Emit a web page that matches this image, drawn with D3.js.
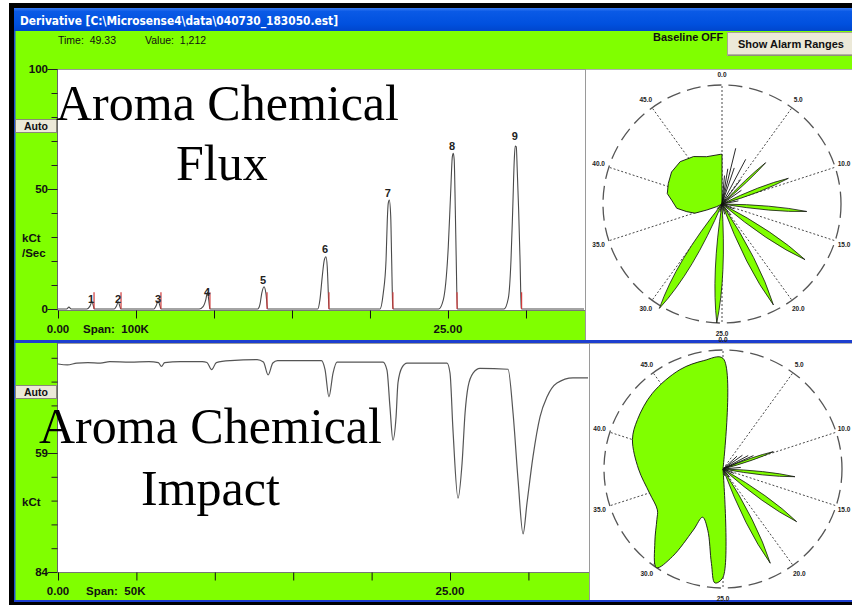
<!DOCTYPE html>
<html><head><meta charset="utf-8">
<script src="https://cdn.jsdelivr.net/npm/d3@7"></script>
<style>html,body{margin:0;padding:0;background:#fff;overflow:hidden}svg{display:block}</style>
</head><body>
<svg id="c" width="852" height="605"></svg>
<script>
// ---------------- data ----------------
const windowTitle = "Derivative [C:\\Microsense4\\data\\040730_183050.est]";
const readoutTime = "Time:  49.33";
const readoutValue = "Value:  1,212";
const baselineText = "Baseline OFF";
const buttonText = "Show Alarm Ranges";
const autoText = "Auto";
const fluxTitle = ["Aroma Chemical", "Flux"];
const impactTitle = ["Aroma Chemical", "Impact"];
const fluxUnits = ["kCt", "/Sec"];
const impactUnits = ["kCt"];
const fluxSpan = "Span:  100K";
const impactSpan = "Span:  50K";

const timeTicks = [0, 5, 10, 15, 20, 25, 30];
const timeTickLabels = {0: "0.00", 25: "25.00"};
const fluxTicks = [0, 10, 20, 30, 40, 50, 60, 70, 80, 90, 100];
const fluxTickLabels = [0, 50, 100];
const impactTicks = [39, 44, 49, 54, 59, 64, 69, 74, 79, 84];
const impactTickLabels = [59, 84];

// derivative trace [time, kCt/s]
const fluxTrace = [
  [0,0],[0.55,0],[0.7,0.8],[0.85,0],
  [1.85,0],[2.05,1.2],[2.18,3.0],[2.28,1.0],[2.33,0],
  [3.6,0],[3.75,1.2],[3.86,3.0],[3.97,1.0],[4.03,0],
  [6.15,0],[6.3,1.5],[6.42,3.4],[6.54,1.2],[6.6,0],
  [9.05,0],[9.3,1.0],[9.48,4.0],[9.58,7.0],[9.66,4.0],[9.74,0],
  [12.8,0],[12.95,2.0],[13.06,6.5],[13.21,9.3],[13.33,6.5],[13.44,0],
  [16.65,0],[16.79,3.8],[16.94,13.5],[17.07,20.4],[17.18,21.8],[17.26,17.6],[17.33,6.5],[17.37,0],
  [20.64,0],[20.85,6.5],[21.03,20.4],[21.11,37.1],[21.17,44.0],[21.24,45.4],[21.33,38.5],[21.39,20.4],[21.46,1.0],[21.49,0],
  [24.4,0],[24.7,3.8],[25.02,26.0],[25.17,48.2],[25.28,63.5],[25.34,64.9],[25.4,62.1],[25.47,41.3],[25.53,20.4],[25.6,0],
  [28.59,0],[28.87,4.5],[29.04,20.4],[29.15,41.3],[29.25,62.1],[29.31,67.9],[29.38,67.6],[29.44,57.9],[29.53,41.3],[29.62,20.4],[29.7,0.3],[29.74,0],
  [33.72,0]
];
const peakNames = ["1","2","3","4","5","6","7","8","9"];
const peakLabelT = [2.12, 3.85, 6.41, 9.55, 13.14, 17.12, 21.15, 25.26, 29.29];
const peakLabelV = [2.5, 2.5, 2.5, 5.4, 10.4, 23.3, 46.7, 66.3, 70.4];
const markerT = [2.31, 4.04, 6.60, 9.74, 13.40, 17.37, 21.47, 25.58, 29.72];
const markerV = [7, 7, 7, 7, 7, 7, 7, 7, 7];

// impact trace [time, kCt] (axis inverted)
const impactTrace = [
  [0,40.3],[0.6,40.5],[1.2,40.1],[1.9,40.0],[2.7,40.1],[3.3,39.8],[4.6,39.9],[5.8,39.8],[6.4,40.0],[6.6,40.8],[6.8,40.0],
  [7.8,39.8],[9.2,39.8],[9.5,40.0],[9.8,41.5],[10.1,40.0],[11.0,39.6],[12.7,39.4],[13.1,39.9],[13.4,42.6],[13.7,40.1],[14.0,39.6],
  [16.8,39.6],[17.03,41.5],[17.28,47.2],[17.54,42.2],[17.79,39.9],
  [20.73,39.9],[20.98,41.6],[21.17,49.3],[21.36,56.3],[21.56,51.4],[21.68,44.3],[21.94,41.0],[22.26,40.1],
  [24.81,40.1],[25.0,42.2],[25.19,54.2],[25.51,68.5],[25.77,61.1],[25.96,50.6],[26.15,45.1],[26.47,42.2],[26.91,41.2],
  [28.7,41.4],[29.02,50.6],[29.34,64.7],[29.66,76.0],[29.91,69.5],[30.29,59.8],[30.74,51.4],[31.19,47.2],[31.82,44.3],[32.84,43.2],[33.8,43.2]
];

// polar views: angle = time (0..50), radius = response (0..100 = rim)
const polarAngleT = [0, 5, 10, 15, 20, 25, 30, 35, 40, 45];
const polarAngleLabels = ["0.0","5.0","10.0","15.0","20.0","25.0","30.0","35.0","40.0","45.0"];

const fluxPetalT = [6.47, 9.56, 13.2, 17.2, 21.25, 25.35, 29.3];
const fluxPetalR = [50.5, 59.8, 71.5, 84, 95.2, 100, 102.3];
const fluxPetalW = [0.45, 0.7, 0.6, 0.85, 0.9, 0.85, 1.1];
const fluxSpokeT = [0.7, 1.3, 1.92, 2.6, 3.88, 5.2, 7.6, 11.0, 15.5, 19.5, 23.0, 27.0, 31.5];
const fluxSpokeR = [24, 30, 48.2, 32, 42.5, 26, 20, 14, 11, 12, 9, 7, 6];
const fluxBlob = [
  [33.5,0],[33.8,5],[34.5,13.8],[34.9,24],[35.8,30.3],[36.75,38.2],[38.1,42.4],[39.0,46.8],[40.4,48.3],
  [42.0,50.2],[43.8,50],[45.7,46.5],[47.5,41.8],[49.8,41.8],[50,41.8],[50,0]
];

const impactPetalT = [9.86, 13.35, 17.44, 21.3];
const impactPetalR = [44.7, 60.8, 76.1, 88.6];
const impactPetalW = [0.55, 0.6, 0.8, 0.85];
const impactSpokeT = [6.6, 7.6, 8.6, 9.2, 11.8, 15.5, 19.5, 23.0];
const impactSpokeR = [16, 20, 24, 28, 15, 10, 9, 6];
const impactBlob = [
  [25,0],[25,91],[25.56,96],[25.97,80],[26.94,53],[28.19,44],[28.6,57],[29.17,85],[29.72,100],
  [30.97,84],[32.3,70],[33.06,65],[35.0,65],[37.5,71],[40.0,80],[41.67,83],[44.03,87],[46.74,91],[48.6,92.5],[50,93],[50,0]
];

// ---------------- drawing ----------------
const GREEN = "#80ff00";
const svg = d3.select("#c");
const defs = svg.append("defs");
const grad = defs.append("linearGradient").attr("id","tb").attr("x1",0).attr("y1",0).attr("x2",0).attr("y2",1);
grad.append("stop").attr("offset",0).attr("stop-color","#3b7cf2");
grad.append("stop").attr("offset",0.15).attr("stop-color","#0a5ae6");
grad.append("stop").attr("offset",0.7).attr("stop-color","#0050de");
grad.append("stop").attr("offset",1).attr("stop-color","#0046cc");

// frame
svg.append("rect").attr("x",9).attr("y",3).attr("width",843).attr("height",602).attr("fill","#000");
svg.append("rect").attr("x",14).attr("y",8).attr("width",838).attr("height",23).attr("fill","url(#tb)");
svg.append("text").attr("x",20).attr("y",25).attr("fill","#fff")
  .attr("font-family","DejaVu Sans, sans-serif").attr("font-weight","bold").attr("font-size",12.5)
  .attr("textLength",318).attr("lengthAdjust","spacingAndGlyphs").text(windowTitle);
svg.append("rect").attr("x",14).attr("y",31).attr("width",838).attr("height",569).attr("fill",GREEN);
svg.append("rect").attr("x",14).attr("y",31).attr("width",1.5).attr("height",569).attr("fill","#2050d0");
svg.append("rect").attr("x",14).attr("y",340).attr("width",838).attr("height",3).attr("fill","#1d3fcf");
svg.append("rect").attr("x",14).attr("y",600).attr("width",838).attr("height",2).attr("fill","#1d3fcf");

// header
const sans = "Liberation Sans, Arial, sans-serif";
svg.append("text").attr("x",58).attr("y",44).attr("font-family",sans).attr("font-size",10.5).attr("fill","#111")
  .attr("xml:space","preserve").text(readoutTime);
svg.append("text").attr("x",145).attr("y",44).attr("font-family",sans).attr("font-size",10.5).attr("fill","#111")
  .attr("xml:space","preserve").text(readoutValue);
svg.append("text").attr("x",653).attr("y",41).attr("font-family",sans).attr("font-weight","bold").attr("font-size",11)
  .attr("fill","#111").text(baselineText);
svg.append("rect").attr("x",727.5).attr("y",32.5).attr("width",125).attr("height",23).attr("fill","#ece9d8")
  .attr("stroke","#a8a690");
svg.append("line").attr("x1",728).attr("x2",852).attr("y1",55).attr("y2",55).attr("stroke","#7a7868");
svg.append("text").attr("x",791).attr("y",48).attr("text-anchor","middle").attr("font-family",sans)
  .attr("font-weight","bold").attr("font-size",11).attr("fill","#111").text(buttonText);

// ---------- strip chart helper ----------
function stripChart(o) {
  const g = svg.append("g");
  g.append("rect").attr("x",o.x0).attr("y",o.y0).attr("width",o.x1-o.x0).attr("height",o.y1-o.y0).attr("fill","#fff");
  g.append("line").attr("x1",o.x0-0.5).attr("x2",o.x0-0.5).attr("y1",o.y0).attr("y2",o.y1).attr("stroke","#666");
  g.append("line").attr("x1",o.x0).attr("x2",o.x1).attr("y1",o.y0+0.5).attr("y2",o.y0+0.5).attr("stroke","#9a9a9a");
  g.append("line").attr("x1",o.x1+0.5).attr("x2",o.x1+0.5).attr("y1",o.y0).attr("y2",o.y1).attr("stroke","#9a9a9a");
  g.append("line").attr("x1",o.x0-0.5).attr("x2",o.x1).attr("y1",o.y1+0.5).attr("y2",o.y1+0.5).attr("stroke","#777");

  // y axis
  const ya = g.append("g").attr("transform",`translate(${o.x0-0.5},0)`)
    .call(d3.axisLeft(o.y).tickValues(o.yTicks).tickSize(6).tickSizeOuter(0).tickFormat(""));
  ya.select(".domain").remove();
  ya.selectAll(".tick line").attr("stroke","#222")
    .attr("x2", d => o.yLabels.includes(d) ? -10 : -6);
  g.selectAll(null).data(o.yLabels).join("text")
    .attr("x",o.x0-10).attr("y",d=>o.y(d)+4).attr("text-anchor","end")
    .attr("font-family",sans).attr("font-weight","bold").attr("font-size",11.5).attr("fill","#111").text(d=>d);

  // x axis
  const xa = g.append("g").attr("transform",`translate(0,${o.y1+0.5})`)
    .call(d3.axisBottom(o.x).tickValues(timeTicks).tickSize(8).tickSizeOuter(0).tickFormat(""));
  xa.select(".domain").remove();
  xa.selectAll(".tick line").attr("stroke","#111");
  g.selectAll(null).data(timeTicks.filter(d => timeTickLabels[d])).join("text")
    .attr("x",d=>o.x(d)).attr("y",o.y1+23).attr("text-anchor","middle")
    .attr("font-family",sans).attr("font-weight","bold").attr("font-size",11.5).attr("fill","#111")
    .text(d=>timeTickLabels[d]);
  g.append("text").attr("x",o.spanX).attr("y",o.y1+23).attr("xml:space","preserve")
    .attr("font-family",sans).attr("font-weight","bold").attr("font-size",11.5).attr("fill","#111").text(o.span);

  // units
  o.units.forEach((u,i)=>{
    g.append("text").attr("x",22).attr("y",o.unitY + i*15).attr("font-family",sans).attr("font-weight","bold")
      .attr("font-size",11.5).attr("fill","#111").text(u);
  });
  // Auto button
  g.append("rect").attr("x",15.5).attr("y",o.autoY+0.5).attr("width",41).attr("height",13)
    .attr("fill","#ece9d8").attr("stroke","#8a8878");
  g.append("text").attr("x",36).attr("y",o.autoY+11).attr("text-anchor","middle")
    .attr("font-family",sans).attr("font-weight","bold").attr("font-size",10.5).attr("fill","#111").text(autoText);
  return g;
}

// ---------- top: flux ----------
const topX = d3.scaleLinear().domain([0, 33.72]).range([58, 584]);
const topY = d3.scaleLinear().domain([0, 100]).range([309, 69]);
const gTop = stripChart({x0:58, x1:585, y0:69, y1:310, x:topX, y:topY, yTicks:fluxTicks, yLabels:fluxTickLabels,
  span:fluxSpan, spanX:83, units:fluxUnits, unitY:242, autoY:119});

const clipTop = defs.append("clipPath").attr("id","ct");
clipTop.append("rect").attr("x",58).attr("y",69).attr("width",527).attr("height",241);
const pTop = gTop.append("g").attr("clip-path","url(#ct)");
pTop.append("path").datum(fluxTrace)
  .attr("d", d3.line().x(d=>topX(d[0])).y(d=>topY(d[1])).curve(d3.curveMonotoneX))
  .attr("fill","none").attr("stroke","#4a4a4a").attr("stroke-width",1.1);
pTop.selectAll(null).data(markerT).join("line")
  .attr("x1",d=>topX(d)).attr("x2",d=>topX(d)).attr("y1",topY(0)).attr("y2",(d,i)=>topY(markerV[i]))
  .attr("stroke","#d03a3a").attr("stroke-width",1.2);
pTop.selectAll(null).data(peakNames).join("text")
  .attr("x",(d,i)=>topX(peakLabelT[i])).attr("y",(d,i)=>topY(peakLabelV[i])).attr("text-anchor","middle")
  .attr("font-family",sans).attr("font-weight","bold").attr("font-size",11).attr("fill","#222").text(d=>d);

// ---------- bottom: impact ----------
const botX = d3.scaleLinear().domain([0, 33.8]).range([58, 588]);
const botY = d3.scaleLinear().domain([36.1, 84]).range([344, 572]);
const gBot = stripChart({x0:58, x1:589, y0:343, y1:572, x:botX, y:botY, yTicks:impactTicks, yLabels:impactTickLabels,
  span:impactSpan, spanX:86, units:impactUnits, unitY:506, autoY:385});
const clipBot = defs.append("clipPath").attr("id","cb");
clipBot.append("rect").attr("x",58).attr("y",343).attr("width",531).attr("height",229);
gBot.append("g").attr("clip-path","url(#cb)").append("path").datum(impactTrace)
  .attr("d", d3.line().x(d=>botX(d[0])).y(d=>botY(d[1])).curve(d3.curveMonotoneX))
  .attr("fill","none").attr("stroke","#555").attr("stroke-width",1.2);

// ---------- polar helper ----------
const ang = d3.scaleLinear().domain([0, 50]).range([0, 2*Math.PI]);
const rad = d3.scaleLinear().domain([0, 100]).range([0, 119]);
function polar(o) {
  const g = svg.append("g");
  g.append("rect").attr("x",o.px).attr("y",o.py).attr("width",852-o.px).attr("height",o.ph).attr("fill","#fff");
  g.append("line").attr("x1",o.px-0.5).attr("x2",o.px-0.5).attr("y1",o.py).attr("y2",o.py+o.ph).attr("stroke","#9a9a9a");
  g.append("line").attr("x1",o.px).attr("x2",852).attr("y1",o.py+0.5).attr("y2",o.py+0.5).attr("stroke","#b0b0b0");
  const c = g.append("g").attr("transform",`translate(${o.cx},${o.cy})`);
  const P = (t, r) => [rad(r)*Math.sin(ang(t)), -rad(r)*Math.cos(ang(t))];
  // grid
  c.selectAll(null).data(polarAngleT).join("line")
    .attr("x1",0).attr("y1",0).attr("x2",d=>P(d,100)[0]).attr("y2",d=>P(d,100)[1])
    .attr("stroke","#333").attr("stroke-width",0.9).attr("stroke-dasharray","2,2");
  c.append("circle").attr("r",rad(100)).attr("fill","none").attr("stroke","#555").attr("stroke-width",1.3)
    .attr("stroke-dasharray","14,7");
  // blob
  c.append("path").datum(o.blob)
    .attr("d", d3.lineRadial().angle(d=>ang(d[0])).radius(d=>rad(d[1])).curve(o.blobCurve)(o.blob) + "Z")
    .attr("fill",GREEN).attr("stroke","#111").attr("stroke-width",0.9);
  // petals
  o.petalT.forEach((t,i)=>{
    const r = o.petalR[i], w = o.petalW[i];
    const p = d3.path();
    p.moveTo(0,0);
    const c1 = P(t - w, r*0.6), tip = P(t, r), c2 = P(t + w, r*0.6);
    p.quadraticCurveTo(c1[0],c1[1],tip[0],tip[1]);
    p.quadraticCurveTo(c2[0],c2[1],0,0);
    p.closePath();
    c.append("path").attr("d",p.toString()).attr("fill",GREEN).attr("stroke","#111").attr("stroke-width",0.8);
  });
  // spokes
  c.selectAll(null).data(o.spokeT).join("line")
    .attr("x1",0).attr("y1",0).attr("x2",(d,i)=>P(d,o.spokeR[i])[0]).attr("y2",(d,i)=>P(d,o.spokeR[i])[1])
    .attr("stroke","#111").attr("stroke-width",0.9);
  // labels
  c.selectAll(null).data(polarAngleT).join("text")
    .attr("x",d=>Math.min(P(d,109)[0], 852-o.cx-8)).attr("y",d=>P(d,109)[1]+2.5)
    .attr("text-anchor","middle").attr("font-family",sans).attr("font-weight","bold").attr("font-size",6.5)
    .attr("fill","#222").text((d,i)=>polarAngleLabels[i]);
}
polar({px:586, py:69, ph:271, cx:722, cy:204, blob:fluxBlob, blobCurve:d3.curveLinear,
  petalT:fluxPetalT, petalR:fluxPetalR, petalW:fluxPetalW, spokeT:fluxSpokeT, spokeR:fluxSpokeR});
polar({px:590, py:343, ph:257, cx:723, cy:469, blob:impactBlob, blobCurve:d3.curveCatmullRom.alpha(0.5),
  petalT:impactPetalT, petalR:impactPetalR, petalW:impactPetalW, spokeT:impactSpokeT, spokeR:impactSpokeR});

// ---------- overlay titles ----------
const serif = "Liberation Serif, Times New Roman, serif";
function overlay(lines, pos) {
  lines.forEach((s,i)=>{
    svg.append("text").attr("x",pos[i][0]).attr("y",pos[i][1]).attr("font-family",serif)
      .attr("font-size",50).attr("fill","#000").text(s);
  });
}
overlay(fluxTitle, [[56,120],[176,180]]);
overlay(impactTitle, [[39,443],[141,505]]);
</script>
</body></html>
